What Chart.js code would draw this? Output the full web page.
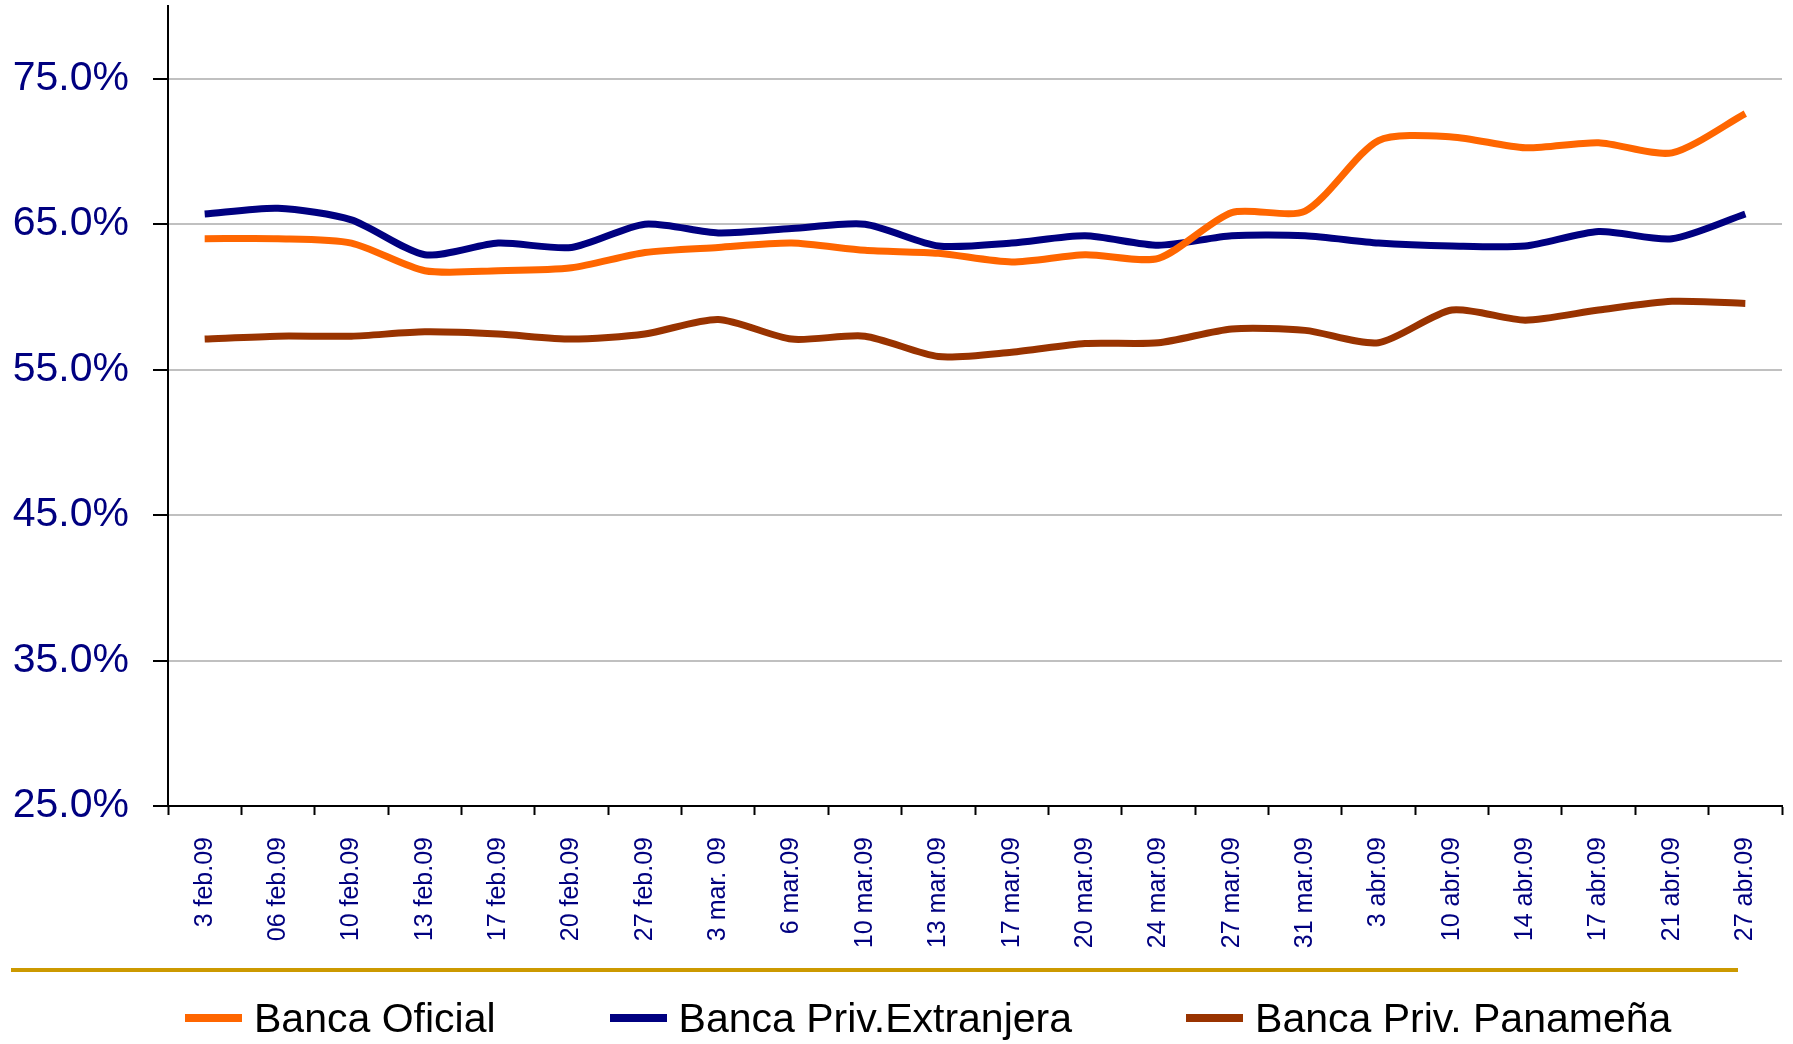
<!DOCTYPE html>
<html>
<head>
<meta charset="utf-8">
<script src="https://cdn.jsdelivr.net/npm/chart.js@4"></script>
<style>
  body { margin: 0; background: #fff; }
  #wrap { position: relative; width: 1793px; height: 1044px; }
  #leyenda {
    position: absolute; left: 185px; top: 994px;
    display: flex; gap: 114px; margin: 0; padding: 0; list-style: none;
    font-family: 'Liberation Sans', Arial, sans-serif; font-size: 41px; line-height: 48px; color: #000;
  }
  #leyenda li { display: flex; align-items: center; white-space: nowrap; }
  #leyenda .caja { display: inline-block; width: 57px; height: 8px; margin-right: 12px; }
</style>
</head>
<body>
<div id="wrap">
  <canvas id="myChart"></canvas>
  <ul id="leyenda"></ul>
</div>
<script>
const fechas = ['3 feb.09', '06 feb.09', '10 feb.09', '13 feb.09', '17 feb.09', '20 feb.09', '27 feb.09',
  '3 mar. 09', '6 mar.09', '10 mar.09', '13 mar.09', '17 mar.09', '20 mar.09', '24 mar.09', '27 mar.09',
  '31 mar.09', '3 abr.09', '10 abr.09', '14 abr.09', '17 abr.09', '21 abr.09', '27 abr.09'];

const bancaOficial = [64.0, 64.0, 63.7, 61.8, 61.8, 62.0, 63.05, 63.4, 63.7, 63.2, 63.0,
  62.4, 62.9, 62.65, 65.8, 65.9, 70.75, 71.0, 70.25, 70.6, 69.9, 72.6];
const bancaExtranjera = [65.7, 66.1, 65.3, 62.9, 63.7, 63.4, 65.0, 64.4, 64.7, 65.0, 63.5,
  63.7, 64.2, 63.55, 64.2, 64.2, 63.7, 63.5, 63.5, 64.5, 64.0, 65.7];
const bancaPanamena = [57.1, 57.3, 57.3, 57.6, 57.45, 57.1, 57.45, 58.45, 57.1, 57.3, 55.9,
  56.2, 56.8, 56.85, 57.8, 57.7, 56.85, 59.1, 58.4, 59.1, 59.7, 59.55];

const yTicks = [25, 35, 45, 55, 65, 75];

const fuente = "'Liberation Sans', Arial, sans-serif";

// separator line between axis labels and legend
const goldLine = {
  id: 'goldLine',
  afterDraw(chart) {
    const c = chart.ctx;
    c.save();
    c.strokeStyle = '#CC9900';
    c.lineWidth = 4;
    c.beginPath();
    c.moveTo(11, 970);
    c.lineTo(1738, 970);
    c.stroke();
    c.restore();
  }
};

// legend as html list, items come from chart.js
const htmlLegend = {
  id: 'htmlLegend',
  afterUpdate(chart) {
    const ul = document.getElementById('leyenda');
    ul.innerHTML = '';
    const items = chart.options.plugins.legend.labels.generateLabels(chart);
    items.forEach(item => {
      const li = document.createElement('li');
      const caja = document.createElement('span');
      caja.className = 'caja';
      caja.style.background = item.strokeStyle;
      const txt = document.createElement('span');
      txt.textContent = item.text;
      li.appendChild(caja);
      li.appendChild(txt);
      ul.appendChild(li);
    });
  }
};

const ctx = document.getElementById('myChart');

new Chart(ctx, {
  type: 'line',
  data: {
    labels: fechas,
    datasets: [
      {
        label: 'Banca Oficial',
        data: bancaOficial,
        borderColor: '#FF6600',
        backgroundColor: '#FF6600',
        borderWidth: 7,
        pointRadius: 0,
        tension: 0.25
      },
      {
        label: 'Banca Priv.Extranjera',
        data: bancaExtranjera,
        borderColor: '#000080',
        backgroundColor: '#000080',
        borderWidth: 7,
        pointRadius: 0,
        tension: 0.25
      },
      {
        label: 'Banca Priv. Panameña',
        data: bancaPanamena,
        borderColor: '#993300',
        backgroundColor: '#993300',
        borderWidth: 7,
        pointRadius: 0,
        tension: 0.25
      }
    ]
  },
  options: {
    responsive: true,
    maintainAspectRatio: false,
    animation: false,
    layout: {
      padding: { left: 0, right: 11, top: 6, bottom: 88 }
    },
    scales: {
      x: {
        offset: true,
        border: { color: '#000', width: 2 },
        grid: {
          offset: true,
          drawOnChartArea: false,
          drawTicks: true,
          tickLength: 9,
          tickColor: '#000',
          tickWidth: 2
        },
        ticks: {
          autoSkip: false,
          maxRotation: 90,
          minRotation: 90,
          padding: 22,
          color: '#000080',
          font: { family: fuente, size: 25 }
        },
        afterFit(scale) {
          scale.height = 150;
          scale.paddingLeft = 0;
          scale.paddingRight = 0;
        }
      },
      y: {
        min: 25,
        max: 80,
        border: { color: '#000', width: 2 },
        grid: {
          color: '#C0C0C0',
          lineWidth: 2,
          tickLength: 15,
          tickColor: '#000',
          tickWidth: 2
        },
        ticks: {
          stepSize: 10,
          padding: 24,
          color: '#000080',
          font: { family: fuente, size: 41 },
          callback: v => v.toFixed(1) + '%'
        },
        afterBuildTicks(scale) {
          scale.ticks = yTicks.map(v => ({ value: v }));
        },
        afterFit(scale) {
          scale.width = 168;
          scale.paddingTop = 0;
          scale.paddingBottom = 0;
        }
      }
    },
    plugins: {
      tooltip: { enabled: false },
      legend: { display: false }
    }
  },
  plugins: [goldLine, htmlLegend]
});
</script>
</body>
</html>
